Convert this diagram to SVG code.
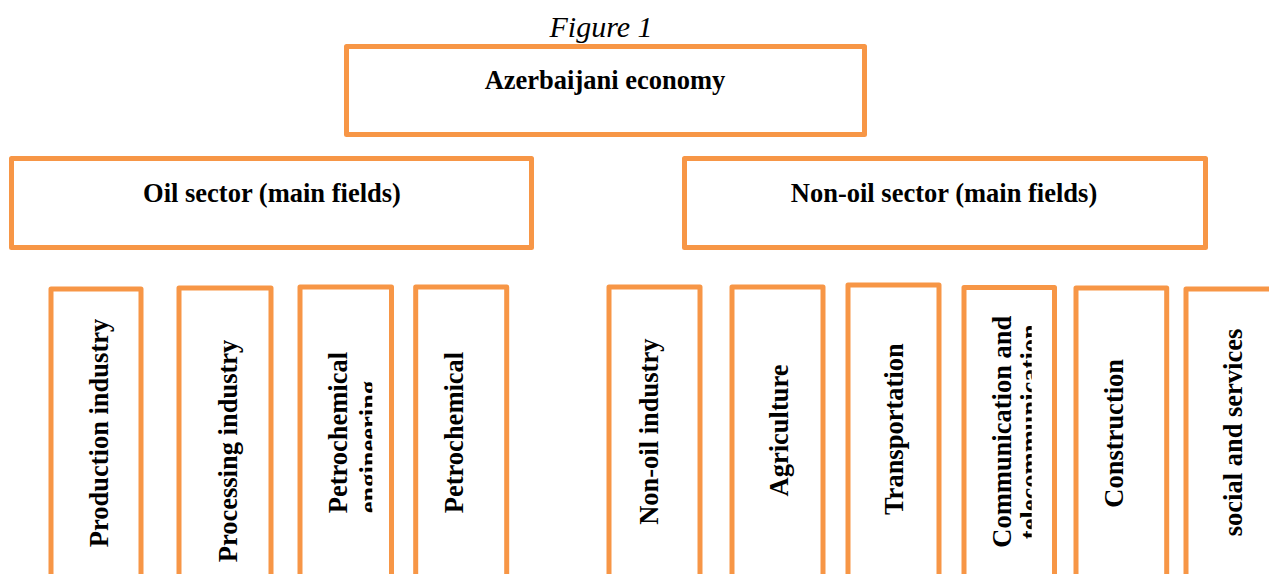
<svg xmlns="http://www.w3.org/2000/svg" width="1269" height="574" viewBox="0 0 1269 574">
  <style>
    .box { fill: #ffffff; stroke: #F79646; stroke-width: 5; stroke-linejoin: round; }
    .lbl { font-family: "Liberation Serif", "Times New Roman", serif; font-weight: bold; font-size: 26.5px; fill: #000000; }
    .title { font-family: "Liberation Serif", "Times New Roman", serif; font-style: italic; font-size: 30px; fill: #000000; }
  </style>
  <defs>
    <!-- second text lines that overflow their boxes are cut off -->
    <clipPath id="clip-eng" clipPathUnits="userSpaceOnUse">
      <rect x="300" y="280" width="72.3" height="300"/>
    </clipPath>
    <clipPath id="clip-tel" clipPathUnits="userSpaceOnUse">
      <rect x="964" y="280" width="67.7" height="300"/>
    </clipPath>
  </defs>
  <rect width="1269" height="574" fill="#ffffff"/>

  <text class="title" x="601" y="37" text-anchor="middle">Figure 1</text>

  <g id="connectors"></g>

  <g id="node-economy">
    <rect class="box" x="346.5" y="46.5" width="518" height="88"/>
    <text class="lbl" x="605" y="89" text-anchor="middle">Azerbaijani economy</text>
  </g>

  <g id="node-oil">
    <rect class="box" x="11.5" y="158.5" width="520" height="89"/>
    <text class="lbl" x="272" y="202" text-anchor="middle">Oil sector (main fields)</text>
  </g>

  <g id="node-nonoil">
    <rect class="box" x="684.5" y="158.5" width="521" height="89"/>
    <text class="lbl" x="944" y="202" text-anchor="middle">Non-oil sector (main fields)</text>
  </g>

  <g id="node-production">
    <rect class="box" x="51" y="289" width="90" height="320"/>
    <text class="lbl" transform="translate(108,433) rotate(-90)" text-anchor="middle">Production industry</text>
  </g>

  <g id="node-processing">
    <rect class="box" x="179" y="288" width="92" height="320"/>
    <text class="lbl" transform="translate(236.5,451) rotate(-90)" text-anchor="middle">Processing industry</text>
  </g>

  <g id="node-petro-eng">
    <rect class="box" x="300" y="287" width="91.5" height="320"/>
    <text class="lbl" transform="translate(346.7,513.3) rotate(-90)" text-anchor="start">Petrochemical</text>
    <g clip-path="url(#clip-eng)">
      <text class="lbl" transform="translate(377.5,513.3) rotate(-90)" text-anchor="start">engineering</text>
    </g>
  </g>

  <g id="node-petro">
    <rect class="box" x="415.7" y="287" width="91" height="320"/>
    <text class="lbl" transform="translate(462.7,432.5) rotate(-90)" text-anchor="middle">Petrochemical</text>
  </g>

  <g id="node-nonoil-industry">
    <rect class="box" x="609" y="287" width="91" height="320"/>
    <text class="lbl" transform="translate(658.3,431.7) rotate(-90)" text-anchor="middle">Non-oil industry</text>
  </g>

  <g id="node-agriculture">
    <rect class="box" x="732" y="287" width="91" height="320"/>
    <text class="lbl" transform="translate(788.3,430.5) rotate(-90)" text-anchor="middle">Agriculture</text>
  </g>

  <g id="node-transportation">
    <rect class="box" x="848" y="285" width="91" height="320"/>
    <text class="lbl" transform="translate(903.3,429.2) rotate(-90)" text-anchor="middle">Transportation</text>
  </g>

  <g id="node-communication">
    <rect class="box" x="964" y="287.5" width="90.5" height="320"/>
    <text class="lbl" transform="translate(1011,431.7) rotate(-90)" text-anchor="middle">Communication and</text>
    <g clip-path="url(#clip-tel)">
      <text class="lbl" transform="translate(1038.5,431.7) rotate(-90)" text-anchor="middle">telecommunication</text>
    </g>
  </g>

  <g id="node-construction">
    <rect class="box" x="1076" y="288" width="90.7" height="320"/>
    <text class="lbl" transform="translate(1123.3,433.3) rotate(-90)" text-anchor="middle">Construction</text>
  </g>

  <g id="node-social">
    <rect class="box" x="1186" y="289" width="91" height="320"/>
    <text class="lbl" transform="translate(1241.7,432.5) rotate(-90)" text-anchor="middle">social and services</text>
  </g>
</svg>
